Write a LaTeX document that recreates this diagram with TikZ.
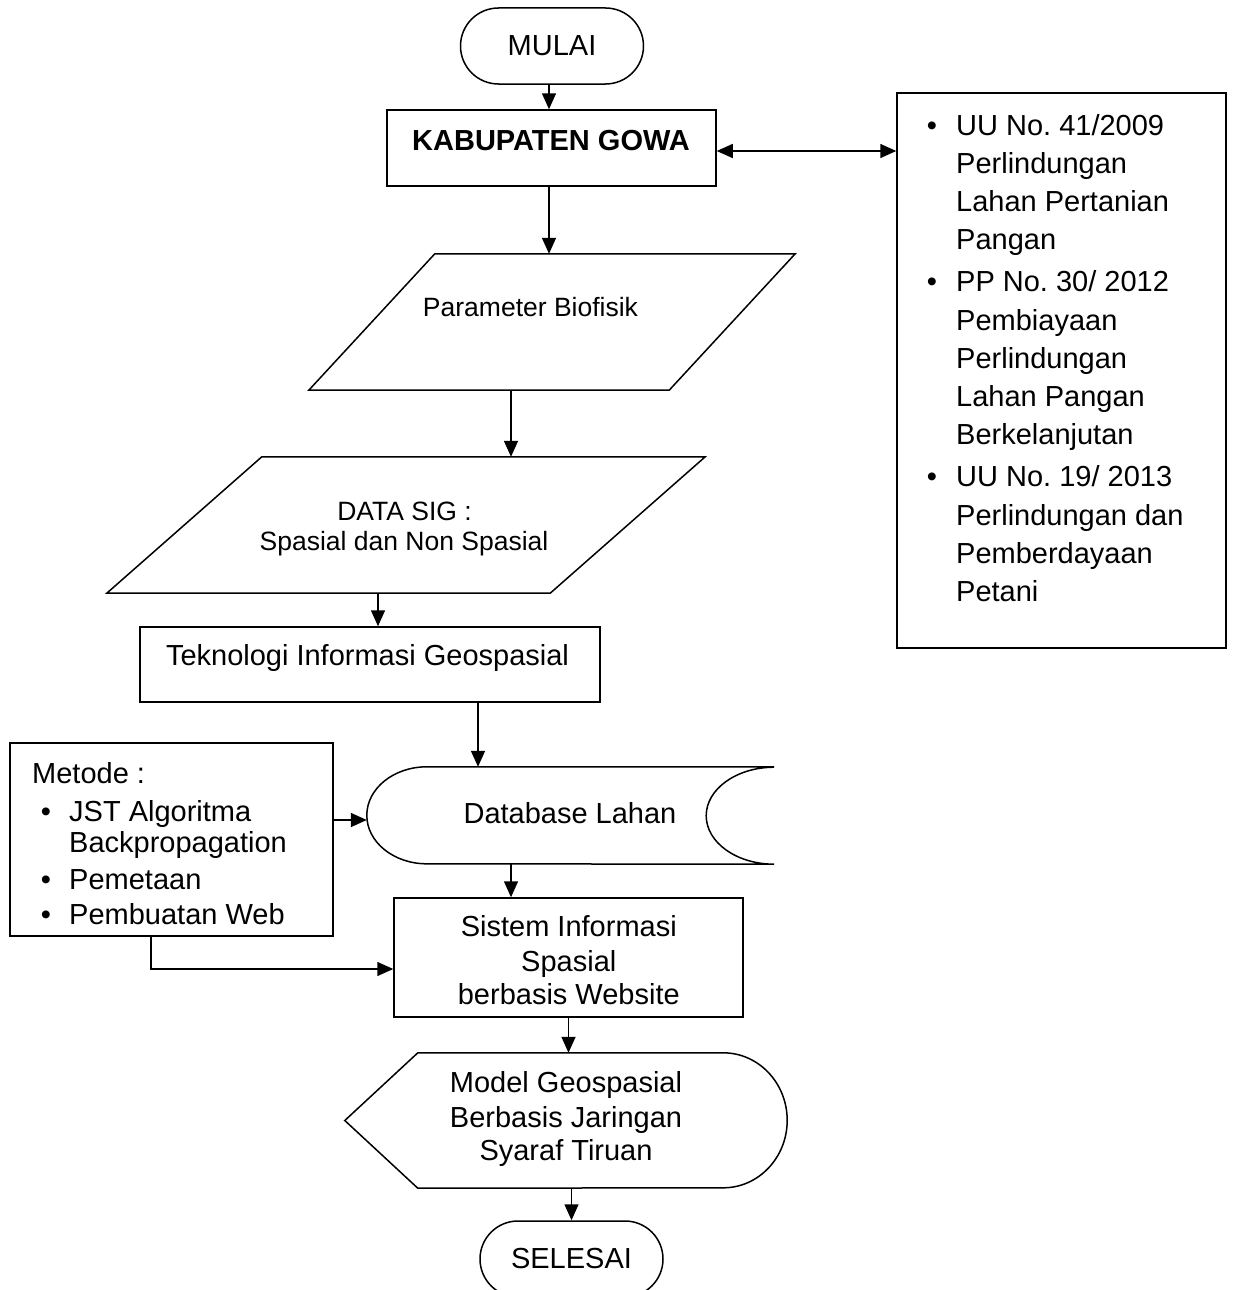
\documentclass[tikz,border=0pt]{standalone}
\usepackage{fontspec}
\setmainfont{Liberation Sans}
\usetikzlibrary{arrows.meta}
\newcommand{\fsA}{\fontsize{29}{34}\selectfont}
\newcommand{\fsB}{\fontsize{26.5}{31}\selectfont}
\frenchspacing
\begin{document}
\begin{tikzpicture}[x=1pt,y=-1pt,
  ln/.style={line width=1.5pt},
  arr/.style={ln,-{Triangle[length=16pt,width=14pt]}},
  darr/.style={ln,{Triangle[length=16pt,width=14pt]}-{Triangle[length=16pt,width=14pt]}},
  frame/.style={draw, ln, inner sep=0pt},
  area/.style={draw=none, inner sep=0pt},
  stad/.style={draw, ln, rounded corners=38pt, minimum width=183pt, minimum height=76pt, inner sep=0pt, font=\fsA},
  tc/.style={anchor=base, inner sep=0pt, font=\fsA},
  tl/.style={anchor=base west, inner sep=0pt, font=\fsA},
  bul/.style={anchor=base, inner sep=0pt, font=\fsA},
]
\path[fill=white,use as bounding box] (0,0) rectangle (1233,1290);

% start
\node[stad] (mulai) at (552,46) {MULAI};

% kabupaten
\node[frame, minimum width=329pt, minimum height=76pt] (kab) at (551.5,148) {};
\node[tc, font=\fsA\bfseries] (kabt) at (551,150.4) {KABUPATEN GOWA};

% regulations box
\node[frame, minimum width=329pt, minimum height=555pt] (uu) at (1061.5,370.5) {};
\node[bul] (rb1) at (932,135.4) {•};
\node[bul] (rb2) at (932,291.9) {•};
\node[bul] (rb3) at (932,486.9) {•};
\node[tl] (r1) at (956,135.4) {UU No. 41/2009};
\node[tl] (r2) at (956,173.4) {Perlindungan};
\node[tl] (r3) at (956,211.4) {Lahan Pertanian};
\node[tl] (r4) at (956,249.9) {Pangan};
\node[tl] (r5) at (956,291.9) {PP No. 30/ 2012};
\node[tl] (r6) at (956,330.4) {Pembiayaan};
\node[tl] (r7) at (956,368.4) {Perlindungan};
\node[tl] (r8) at (956,406.4) {Lahan Pangan};
\node[tl] (r9) at (956,444.9) {Berkelanjutan};
\node[tl] (r10) at (956,486.9) {UU No. 19/ 2013};
\node[tl] (r11) at (956,525.4) {Perlindungan dan};
\node[tl] (r12) at (956,563.4) {Pemberdayaan};
\node[tl] (r13) at (956,601.4) {Petani};

% parameter biofisik
\node[area, minimum width=486pt, minimum height=136pt] (param) at (552,322) {};
\draw[ln] ([xshift=126pt]param.north west) -- (param.north east) -- ([xshift=-126pt]param.south east) -- (param.south west) -- cycle;
\node[tc, font=\fsB] (paramt) at (530.5,316.5) {Parameter Biofisik};

% data sig
\node[area, minimum width=598pt, minimum height=136pt] (data) at (406,525) {};
\draw[ln] ([xshift=155pt]data.north west) -- (data.north east) -- ([xshift=-155pt]data.south east) -- (data.south west) -- cycle;
\node[tc, font=\fsB] (datat1) at (404.5,520) {DATA SIG :};
\node[tc, font=\fsB] (datat2) at (404,550) {Spasial dan Non Spasial};

% teknologi
\node[frame, minimum width=460pt, minimum height=75pt] (tek) at (370,664.5) {};
\node[tc] (tekt) at (367.5,665.4) {Teknologi Informasi Geospasial};

% database
\node[area, minimum width=407pt, minimum height=97pt] (db) at (570.5,815.5) {};
\draw[ln] (db.north east) -- ([xshift=60pt]db.north west) arc[start angle=90,end angle=270,x radius=60pt,y radius=48.5pt] -- (db.south east) arc[start angle=270,end angle=90,x radius=68pt,y radius=48.5pt];
\node[tc] (dbt) at (570,823.2) {Database Lahan};

% metode
\node[frame, minimum width=323pt, minimum height=193pt] (met) at (171.5,839.5) {};
\node[tl] (m0) at (32,783.4) {Metode :};
\node[bul] (mb1) at (46,821.4) {•};
\node[bul] (mb2) at (46,889.4) {•};
\node[bul] (mb3) at (46,924.4) {•};
\node[tl] (m1) at (69,821.4) {JST Algoritma};
\node[tl] (m2) at (69,852.4) {Backpropagation};
\node[tl] (m3) at (69,889.4) {Pemetaan};
\node[tl] (m4) at (69,924.4) {Pembuatan Web};

% sistem informasi
\node[frame, minimum width=349pt, minimum height=119pt] (sis) at (568.5,957.5) {};
\node[tc] (sist1) at (568.8,936.4) {Sistem Informasi};
\node[tc] (sist2) at (568.8,971.9) {Spasial};
\node[tc] (sist3) at (568.8,1004.9) {berbasis Website};

% model
\node[area, minimum width=442pt, minimum height=135pt] (model) at (566,1120.5) {};
\draw[ln] ([xshift=73pt]model.north west) -- ([xshift=-64pt]model.north east) arc[start angle=90,end angle=-90,x radius=64pt,y radius=67.5pt] -- ([xshift=73pt]model.south west) -- (model.west) -- cycle;
\node[tc] (modt1) at (566,1092.4) {Model Geospasial};
\node[tc] (modt2) at (566,1127.1) {Berbasis Jaringan};
\node[tc] (modt3) at (566,1160.7) {Syaraf Tiruan};

% end
\node[stad] (sel) at (571.5,1259) {SELESAI};

% connectors
\draw[arr] ([xshift=-3pt]mulai.south) -- ([xshift=-3pt]mulai.south |- kab.north);
\draw[darr] ([yshift=-3pt]kab.east) -- ([yshift=-3pt]kab.east -| uu.west);
\draw[arr] ([xshift=-2.5pt]kab.south) -- ([xshift=-2.5pt]kab.south |- param.north);
\draw[arr] ([xshift=-41pt]param.south) -- ([xshift=-41pt]param.south |- data.north);
\draw[arr] ([xshift=-28pt]data.south) -- ([xshift=-28pt]data.south |- tek.north);
\draw[arr] ([xshift=108pt]tek.south) -- ([xshift=108pt]tek.south |- db.north);
\draw[arr] ([yshift=-4.5pt]met.east |- db.west) -- ([yshift=-4.5pt]db.west);
\draw[arr] ([xshift=-59.5pt]db.south) -- ([xshift=-59.5pt]db.south |- sis.north);
\draw[arr] ([xshift=-20.5pt]met.south) |- ([yshift=-11.5pt]sis.west);
\draw[arr] (sis.south) -- (sis.south |- model.north);
\draw[arr] (sel.north |- model.south) -- (sel.north);
\end{tikzpicture}
\end{document}
